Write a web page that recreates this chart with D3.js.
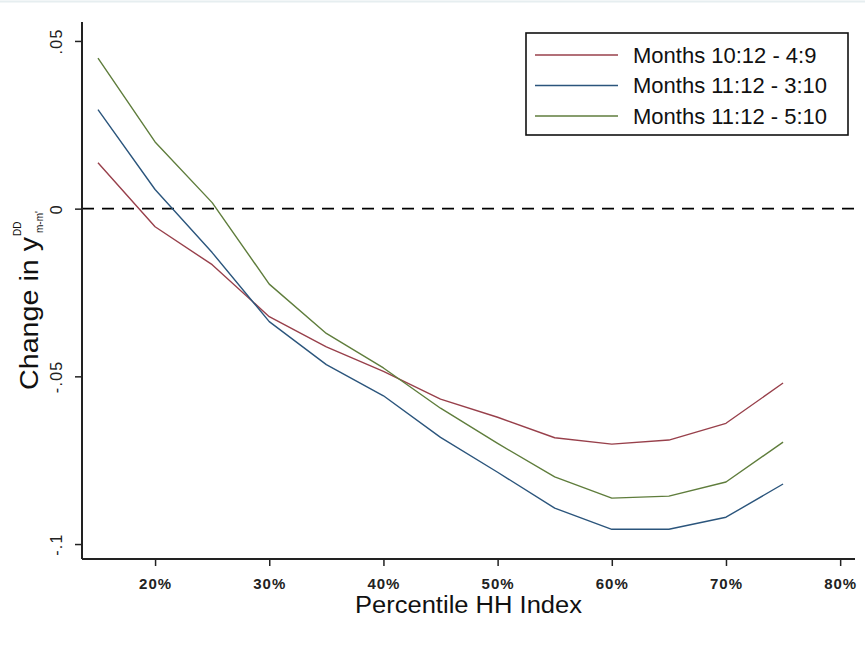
<!DOCTYPE html>
<html>
<head>
<meta charset="utf-8">
<script src="https://cdnjs.cloudflare.com/ajax/libs/d3/7.8.5/d3.min.js"></script>
<style>
  html, body { margin: 0; padding: 0; background: #fff; }
  svg { display: block; font-family: "Liberation Sans", Arial, sans-serif; }
</style>
</head>
<body>
<svg id="chart" width="865" height="646"></svg>
<script>
// Percentile of the HH index (x) and the change in y for each month comparison
const percentiles = [15, 20, 25, 30, 35, 40, 45, 50, 55, 60, 65, 70, 75];
const months10_12_4_9  = [0.0137, -0.0054, -0.0167, -0.0322, -0.0412, -0.0485, -0.0568, -0.0622, -0.0683, -0.0702, -0.0690, -0.0640, -0.0520];
const months11_12_3_10 = [0.0295, 0.0057, -0.0131, -0.0337, -0.0465, -0.0558, -0.0682, -0.0786, -0.0893, -0.0956, -0.0956, -0.0920, -0.0821];
const months11_12_5_10 = [0.0449, 0.0199, 0.0018, -0.0225, -0.0372, -0.0475, -0.0595, -0.0700, -0.0800, -0.0863, -0.0857, -0.0815, -0.0696];
const seriesNames = ["Months 10:12 - 4:9", "Months 11:12 - 3:10", "Months 11:12 - 5:10"];
const seriesColors = ["#98404b", "#2b557c", "#5f7d3c"];
const xTicks = [20, 30, 40, 50, 60, 70, 80];
const yTicks = [0.05, 0, -0.05, -0.1];
const yTickLabels = [".05", "0", "-.05", "-.1"];

const series = [months10_12_4_9, months11_12_3_10, months11_12_5_10];

const svg = d3.select("#chart");

// thin rule across the top of the page
svg.append("line").attr("x1", 0).attr("x2", 865).attr("y1", 1.5).attr("y2", 1.5)
  .attr("stroke", "#e6eef0").attr("stroke-width", 2);

const plotLeft = 82, plotRight = 855, plotTop = 22, plotBottom = 559;

const x = d3.scaleLinear().domain([13.6, 81.3]).range([plotLeft, plotRight]);
const y = d3.scaleLinear().domain([-0.10446, 0.05565]).range([plotBottom, plotTop]);

// zero reference line
svg.append("line")
  .attr("x1", plotLeft).attr("x2", plotRight)
  .attr("y1", y(0)).attr("y2", y(0))
  .attr("stroke", "#000").attr("stroke-width", 1.8)
  .attr("stroke-dasharray", "12,8");

// series lines
const line = d3.line().x((d, i) => x(percentiles[i])).y(d => y(d));
series.forEach((vals, k) => {
  svg.append("path")
    .datum(vals)
    .attr("d", line)
    .attr("fill", "none")
    .attr("stroke", seriesColors[k])
    .attr("stroke-width", 1.4)
    .attr("stroke-linejoin", "round");
});

// y axis
const yAxis = svg.append("g").attr("transform", `translate(${plotLeft},0)`)
  .call(d3.axisLeft(y).tickValues(yTicks).tickSize(7).tickSizeOuter(0)
    .tickFormat((d, i) => yTickLabels[i]))
  .attr("font-family", "Liberation Sans, Arial, sans-serif");
yAxis.select(".domain").attr("stroke", "#222").attr("stroke-width", 2).attr("d", `M0,${plotTop}V${plotBottom}`);
yAxis.selectAll(".tick line").attr("stroke", "#222").attr("stroke-width", 1.5);
yAxis.selectAll(".tick text")
  .attr("transform", "rotate(-90)")
  .attr("x", 0).attr("y", -20)
  .attr("dy", "0")
  .attr("text-anchor", "middle")
  .attr("fill", "#222")
  .style("letter-spacing", "1.3px")
  .style("font-size", "16px");

// x axis
const xAxis = svg.append("g").attr("transform", `translate(0,${plotBottom})`)
  .call(d3.axisBottom(x).tickValues(xTicks).tickSize(7).tickSizeOuter(0)
    .tickFormat(d => d + "%"))
  .attr("font-family", "Liberation Sans, Arial, sans-serif");
xAxis.select(".domain").attr("stroke", "#222").attr("stroke-width", 2).attr("d", `M${plotLeft},0H${plotRight}`);
xAxis.selectAll(".tick line").attr("stroke", "#222").attr("stroke-width", 1.5);
xAxis.selectAll(".tick text")
  .attr("y", 19).attr("dy", "0.71em")
  .attr("fill", "#222")
  .style("font-size", "15px")
  .style("letter-spacing", "1px")
  .style("font-weight", "bold");

// x axis title
svg.append("text")
  .attr("x", 355).attr("y", 613)
  .attr("text-anchor", "start")
  .attr("fill", "#111")
  .style("font-size", "23px")
  .attr("textLength", 227)
  .attr("lengthAdjust", "spacingAndGlyphs")
  .text("Percentile HH Index");

// y axis title with superscript and subscript
svg.append("text")
  .attr("transform", "translate(38,390) rotate(-90)")
  .attr("text-anchor", "start")
  .attr("fill", "#111")
  .style("font-size", "25px")
  .attr("textLength", 153)
  .attr("lengthAdjust", "spacingAndGlyphs")
  .text("Change in y");
svg.append("text")
  .attr("transform", "translate(21,236) rotate(-90)")
  .attr("text-anchor", "start")
  .attr("fill", "#111")
  .style("font-size", "10px")
  .text("DD");
svg.append("text")
  .attr("transform", "translate(43,233) rotate(-90)")
  .attr("text-anchor", "start")
  .attr("fill", "#111")
  .style("font-size", "10px")
  .text("m-m'");

// legend
const lg = svg.append("g");
lg.append("rect")
  .attr("x", 526).attr("y", 33).attr("width", 322).attr("height", 102)
  .attr("fill", "#fff").attr("stroke", "#111").attr("stroke-width", 1.6);
seriesNames.forEach((name, k) => {
  const yy = 55 + k * 30.5;
  lg.append("line")
    .attr("x1", 535).attr("x2", 618).attr("y1", yy).attr("y2", yy)
    .attr("stroke", seriesColors[k]).attr("stroke-width", 1.5);
  lg.append("text")
    .attr("x", 633).attr("y", yy).attr("dy", "0.35em")
    .attr("fill", "#111")
    .style("font-size", "22px")
    .text(name);
});
</script>
</body>
</html>
